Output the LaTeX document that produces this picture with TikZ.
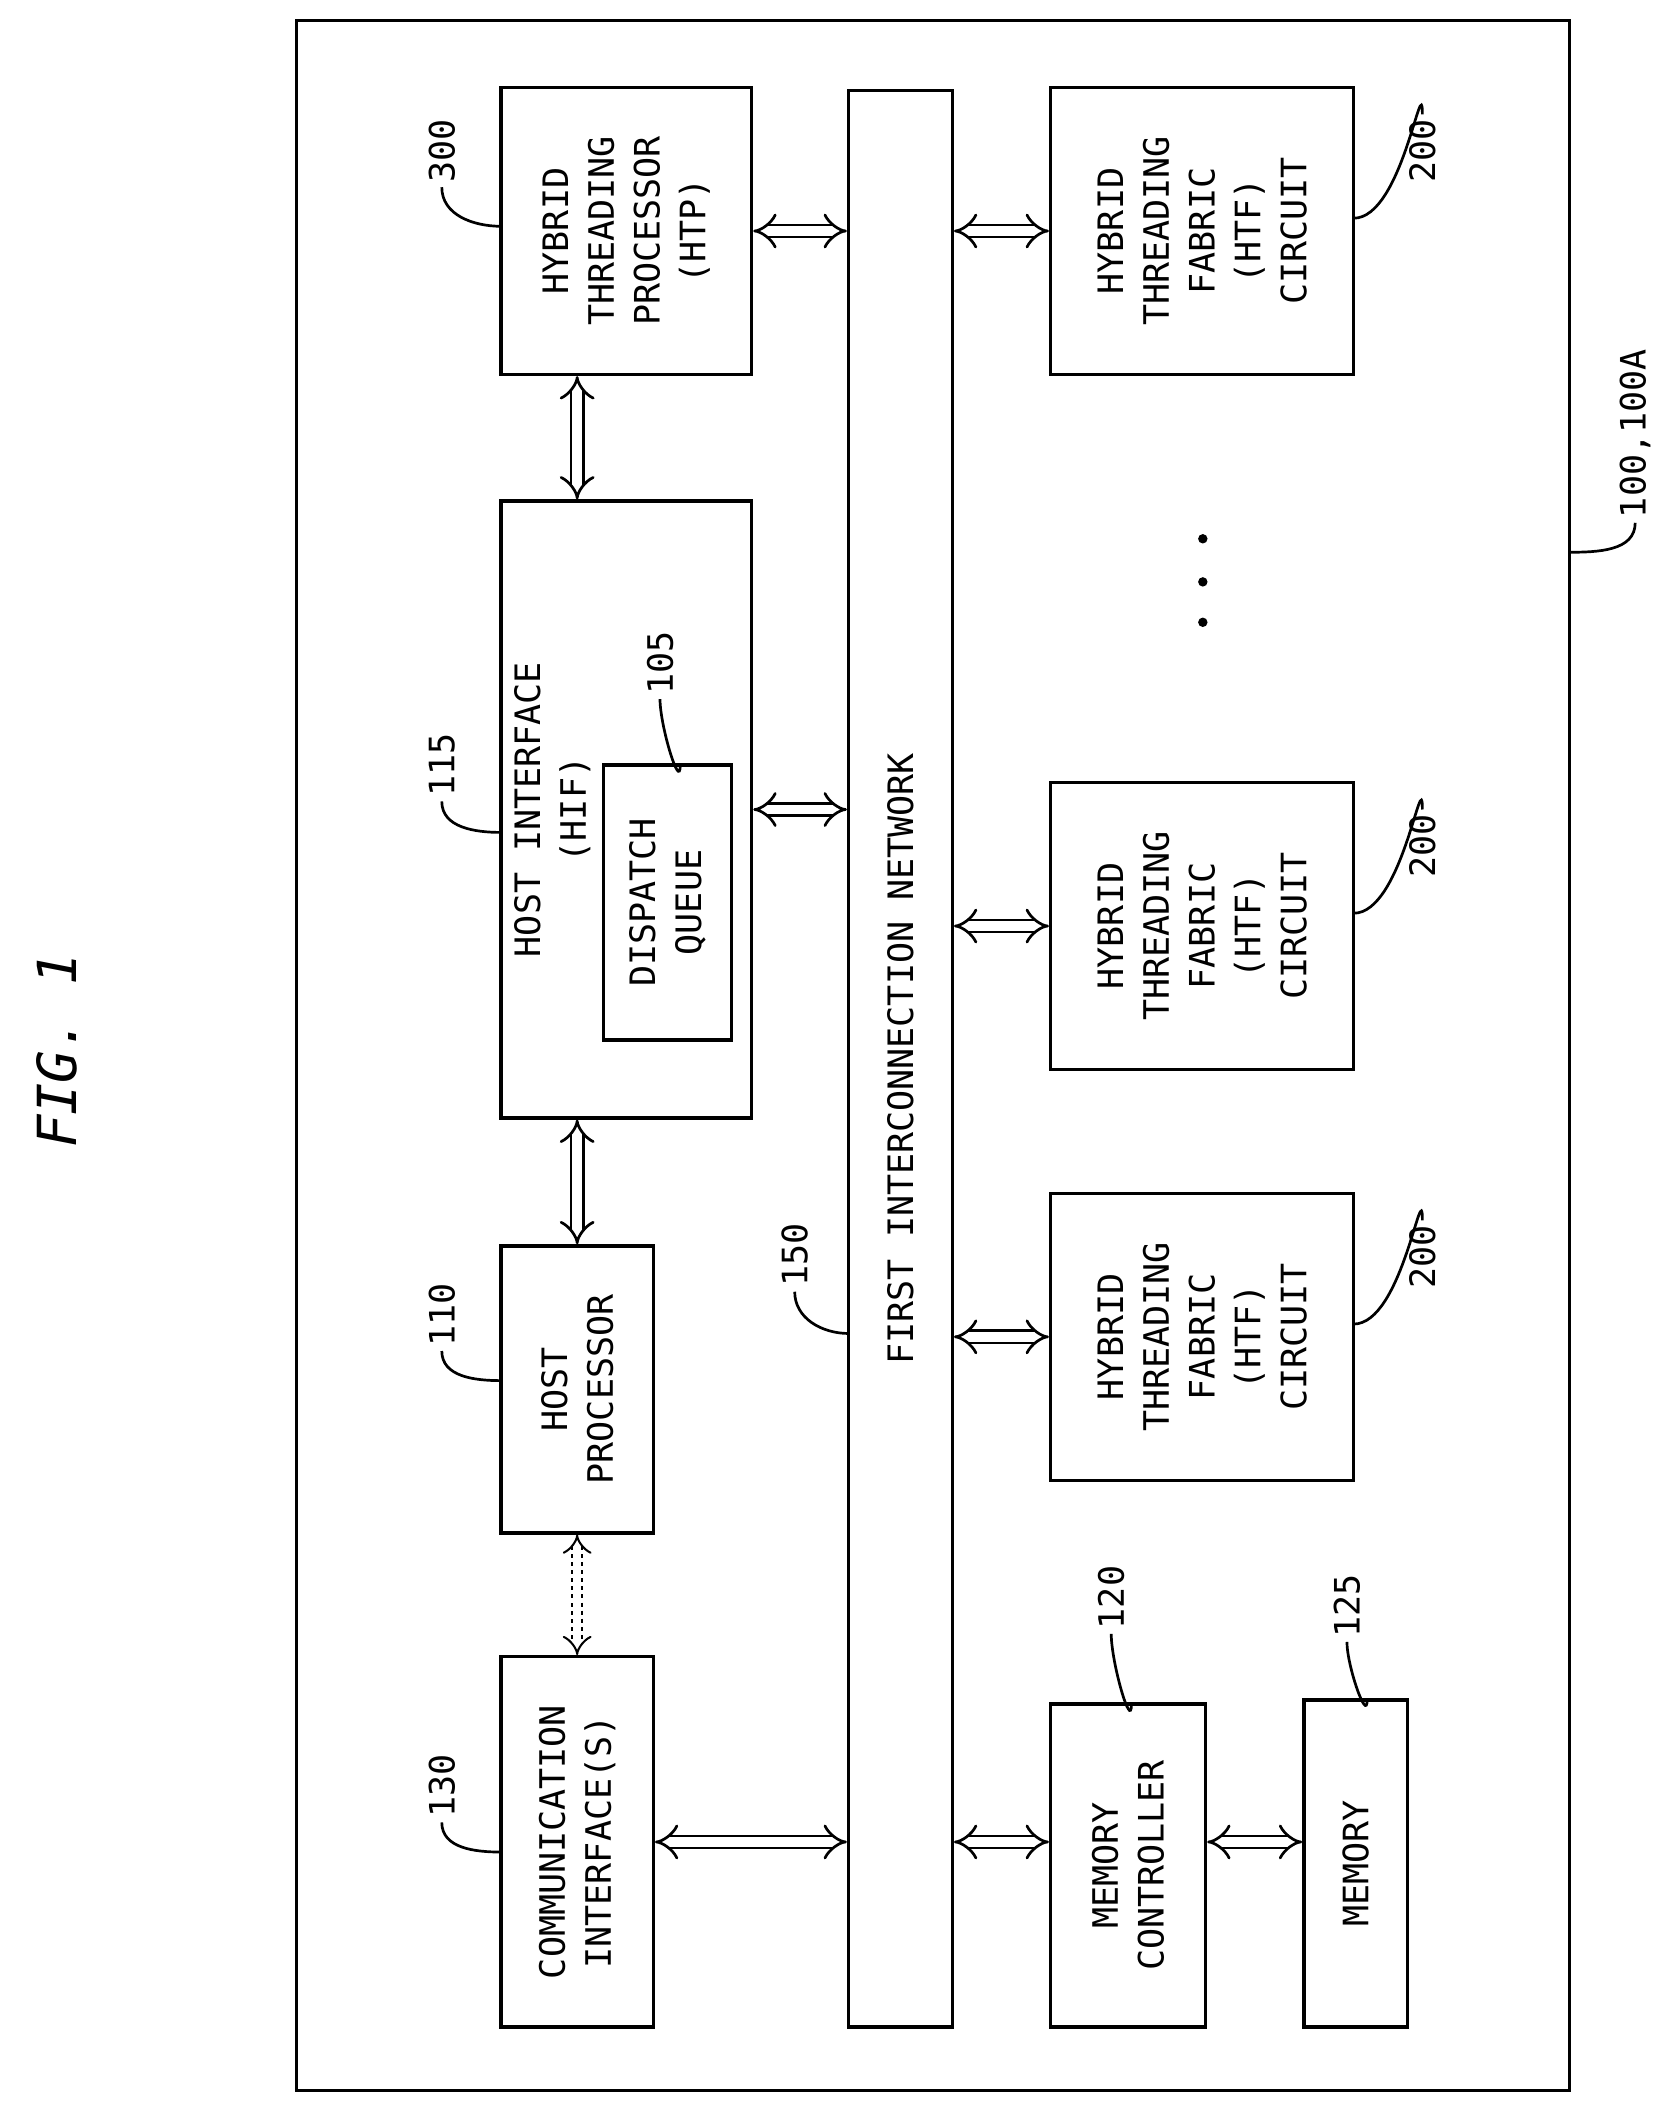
\documentclass[tikz,border=0pt]{standalone}
\usepackage{fontspec}
\setmonofont{DejaVu Sans Mono}
\usetikzlibrary{arrows.meta,positioning}

\tikzset{
  box/.style={draw, line width=2.5pt, inner sep=0pt},
  txt/.style={rotate=90, align=center, font=\ttfamily\fontsize{26}{34}\selectfont},
  lbl/.style={rotate=90, font=\ttfamily\fontsize{26}{30}\selectfont},
  dbl/.style={double, double distance=7pt, line width=2pt, {Implies[]}-{Implies[]}},
  lead/.style={line width=2pt}
}

\begin{document}
\begin{tikzpicture}[x=1pt, y=-1pt]

    \useasboundingbox (0,0) rectangle (1240,1568);

    % Outer frame
    \node[box, minimum width=945, minimum height=1537] (frame) at (692.5,783.5) {};
    \node[rotate=90, font=\ttfamily\itshape\fontsize{40}{40}\selectfont] (fig) at (42,780) {FIG. 1};

    % Interconnection network
    \node[box, minimum width=77, minimum height=1438] (bus) at (668.5,786) {};
    \node[txt] at (bus) {FIRST INTERCONNECTION NETWORK};

    % Left column
    \node[box, minimum width=186, minimum height=213] (htp) at (465,171.5) {};
    \node[txt] at (htp) {HYBRID\\THREADING\\PROCESSOR\\(HTP)};
    \node[box, minimum width=186, minimum height=458] (hif) at (465,601) {};
    \node[txt] at (410,601) {HOST INTERFACE\\(HIF)};
    \node[box, minimum width=95, minimum height=204] (dq) at (495.5,670) {};
    \node[txt] at (dq) {DISPATCH\\QUEUE};
    \node[box, minimum width=113, minimum height=213] (hp) at (428.5,1031.5) {};
    \node[txt] at (hp) {HOST\\PROCESSOR};
    \node[box, minimum width=113, minimum height=275] (comm) at (428.5,1367.5) {};
    \node[txt] at (comm) {COMMUNICATION\\INTERFACE(S)};

    % Right column
    \foreach \n/\y in {htfa/171.5, htfb/687.5, htfc/992.5} {
      \node[box, minimum width=225, minimum height=213] (\n) at (892.5,\y) {};
      \node[txt] at (\n) {HYBRID\\THREADING\\FABRIC\\(HTF)\\CIRCUIT};
    }
    \node[box, minimum width=115, minimum height=240] (mc) at (837.5,1385) {};
    \node[txt] at (mc) {MEMORY\\CONTROLLER};
    \node[box, minimum width=77, minimum height=243] (mem) at (1006.5,1383.5) {};
    \node[txt] at (mem) {MEMORY};

    % Ellipsis
    \foreach \y in {400,432,462} \fill (893,\y) circle (3.5);

    % Connections
    \draw[dbl] (htp.east) -- (bus.west |- htp.east);
    \draw[dbl] (hif.east) -- (bus.west |- hif.east);
    \draw[dbl] (comm.east) -- (bus.west |- comm.east);
    \draw[dbl] (htp.south -| hp.north) -- (hif.north -| hp.north);
    \draw[dbl] (hif.south -| hp.north) -- (hp.north);
    \draw[dbl, dashed, double distance=6pt, line width=1.5pt] (hp.south) -- (comm.north);
    \foreach \n in {htfa,htfb,htfc}
      \draw[dbl] (bus.east |- \n.west) -- (\n.west);
    \draw[dbl] (bus.east |- comm.east) -- (mc.west |- comm.east);
    \draw[dbl] (mc.east |- comm.east) -- (mem.west |- comm.east);

    % Reference numerals
    \node[lbl] (l300) at (328,112) {300};
    \draw[lead] (l300.west) to[out=-90,in=180] (372,168);
    \node[lbl] (l115) at (328,568) {115};
    \draw[lead] (l115.west) to[out=-90,in=180] (372,618);
    \node[lbl] (l105) at (490,492) {105};
    \draw[lead] (l105.west) to[out=-90,in=-90] (505,568);
    \node[lbl] (l110) at (328,976) {110};
    \draw[lead] (l110.west) to[out=-90,in=180] (372,1025);
    \node[lbl] (l130) at (328,1326) {130};
    \draw[lead] (l130.west) to[out=-90,in=180] (372,1375);
    \node[lbl] (l150) at (590,932) {150};
    \draw[lead] (l150.west) to[out=-90,in=180] (630,990);
    \foreach \n/\y in {htfa/112, htfb/628, htfc/933} {
      \node[lbl] (l\n) at (1056,\y) {200};
      \draw[lead] (l\n.east) to[out=90,in=0] (1005,\y+50);
    }
    \node[lbl] (l120) at (825,1186) {120};
    \draw[lead] (l120.west) to[out=-90,in=-90] (840,1265);
    \node[lbl] (l125) at (1000,1192) {125};
    \draw[lead] (l125.west) to[out=-90,in=-90] (1015,1262);
    \node[lbl] (l100) at (1214,322) {100,100A};
    \draw[lead] (l100.west) to[out=-90,in=0] (1165,410);

\end{tikzpicture}
\end{document}
